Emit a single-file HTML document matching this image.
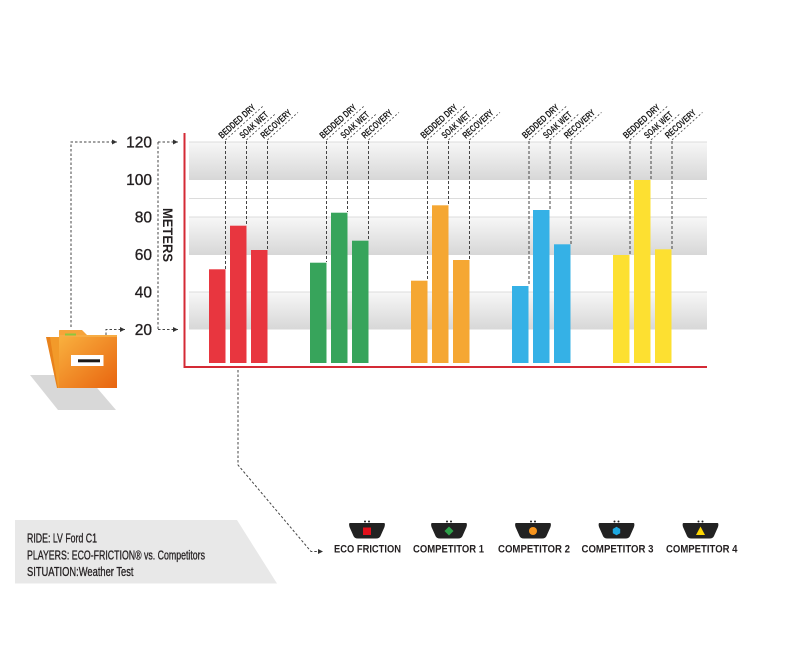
<!DOCTYPE html>
<html><head><meta charset="utf-8"><style>
html,body{margin:0;padding:0;background:#fff;}
svg{display:block;}
</style></head><body>
<svg width="800" height="650" viewBox="0 0 800 650" xmlns="http://www.w3.org/2000/svg" font-family="Liberation Sans, sans-serif">
<defs>
<linearGradient id="band" x1="0" y1="0" x2="0" y2="1">
<stop offset="0" stop-color="#f7f7f7"/><stop offset="1" stop-color="#d7d7d7"/>
</linearGradient>
<linearGradient id="fold" x1="0" y1="0" x2="1" y2="1">
<stop offset="0" stop-color="#f9b13f"/><stop offset="1" stop-color="#e8640f"/>
</linearGradient>
<marker id="ar" markerWidth="6" markerHeight="6" refX="5" refY="3" orient="auto" markerUnits="userSpaceOnUse">
<path d="M0,0.5 L5,3 L0,5.5 Z" fill="#333"/>
</marker>
</defs>

<!-- bands -->
<g>
<rect x="189" y="142" width="518" height="38" fill="url(#band)"/>
<rect x="189" y="217" width="518" height="38" fill="url(#band)"/>
<rect x="189" y="292" width="518" height="37.5" fill="url(#band)"/>
<g stroke="#dcdcdc" stroke-width="1">
<line x1="189" y1="142" x2="707" y2="142"/>
<line x1="189" y1="198.5" x2="707" y2="198.5"/>
<line x1="189" y1="217" x2="707" y2="217"/>
<line x1="189" y1="292" x2="707" y2="292"/>
</g>
</g>

<!-- bars -->
<g>
<rect x="209" y="269.3" width="16.5" height="93.7" fill="#e8363f"/>
<rect x="230" y="225.7" width="16.5" height="137.3" fill="#e8363f"/>
<rect x="251" y="250" width="16.5" height="113" fill="#e8363f"/>
<rect x="310" y="262.7" width="16.5" height="100.3" fill="#37a45b"/>
<rect x="331" y="212.7" width="16.5" height="150.3" fill="#37a45b"/>
<rect x="352" y="240.7" width="16.5" height="122.3" fill="#37a45b"/>
<rect x="411" y="280.7" width="16.5" height="82.3" fill="#f5a733"/>
<rect x="432" y="205.3" width="16.5" height="157.7" fill="#f5a733"/>
<rect x="453" y="260" width="16.5" height="103" fill="#f5a733"/>
<rect x="512" y="286" width="16.5" height="77" fill="#35b1e6"/>
<rect x="533" y="210" width="16.5" height="153" fill="#35b1e6"/>
<rect x="554" y="244.3" width="16.5" height="118.7" fill="#35b1e6"/>
<rect x="613" y="255" width="16.5" height="108" fill="#fde031"/>
<rect x="634" y="180" width="16.5" height="183" fill="#fde031"/>
<rect x="655" y="249.3" width="16.5" height="113.7" fill="#fde031"/>
</g>

<!-- dashed verticals from labels to bars -->
<g stroke="#444" stroke-width="1" stroke-dasharray="3,2" fill="none">
<line x1="225.5" y1="141" x2="225.5" y2="269"/>
<line x1="246.5" y1="141" x2="246.5" y2="225"/>
<line x1="267.5" y1="141" x2="267.5" y2="250"/>
<line x1="326.5" y1="141" x2="326.5" y2="262"/>
<line x1="347.5" y1="141" x2="347.5" y2="212"/>
<line x1="368.5" y1="141" x2="368.5" y2="240"/>
<line x1="427.5" y1="141" x2="427.5" y2="280"/>
<line x1="448.5" y1="141" x2="448.5" y2="205"/>
<line x1="469.5" y1="141" x2="469.5" y2="260"/>
<line x1="529" y1="141" x2="529" y2="286"/>
<line x1="550" y1="141" x2="550" y2="210"/>
<line x1="571" y1="141" x2="571" y2="244"/>
<line x1="630" y1="141" x2="630" y2="255"/>
<line x1="651" y1="141" x2="651" y2="180"/>
<line x1="672" y1="141" x2="672" y2="249"/>
</g>

<!-- rotated labels -->
<g font-size="9.5" font-weight="bold" fill="#1a1a1a">
<g transform="translate(222,139) rotate(-42)"><text x="0" y="0" textLength="46" lengthAdjust="spacingAndGlyphs">BEDDED DRY</text><line x1="2" y1="3" x2="52" y2="3" stroke="#444" stroke-width="0.8" stroke-dasharray="2,2"/></g>
<g transform="translate(243,139) rotate(-42)"><text x="0" y="0" textLength="35" lengthAdjust="spacingAndGlyphs">SOAK WET</text><line x1="2" y1="3" x2="40" y2="3" stroke="#444" stroke-width="0.8" stroke-dasharray="2,2"/></g>
<g transform="translate(264,139) rotate(-42)"><text x="0" y="0" textLength="38" lengthAdjust="spacingAndGlyphs">RECOVERY</text><line x1="2" y1="3" x2="43" y2="3" stroke="#444" stroke-width="0.8" stroke-dasharray="2,2"/></g>

<g transform="translate(323,139) rotate(-42)"><text x="0" y="0" textLength="46" lengthAdjust="spacingAndGlyphs">BEDDED DRY</text><line x1="2" y1="3" x2="52" y2="3" stroke="#444" stroke-width="0.8" stroke-dasharray="2,2"/></g>
<g transform="translate(344,139) rotate(-42)"><text x="0" y="0" textLength="35" lengthAdjust="spacingAndGlyphs">SOAK WET</text><line x1="2" y1="3" x2="40" y2="3" stroke="#444" stroke-width="0.8" stroke-dasharray="2,2"/></g>
<g transform="translate(365,139) rotate(-42)"><text x="0" y="0" textLength="38" lengthAdjust="spacingAndGlyphs">RECOVERY</text><line x1="2" y1="3" x2="43" y2="3" stroke="#444" stroke-width="0.8" stroke-dasharray="2,2"/></g>

<g transform="translate(424,139) rotate(-42)"><text x="0" y="0" textLength="46" lengthAdjust="spacingAndGlyphs">BEDDED DRY</text><line x1="2" y1="3" x2="52" y2="3" stroke="#444" stroke-width="0.8" stroke-dasharray="2,2"/></g>
<g transform="translate(445,139) rotate(-42)"><text x="0" y="0" textLength="35" lengthAdjust="spacingAndGlyphs">SOAK WET</text><line x1="2" y1="3" x2="40" y2="3" stroke="#444" stroke-width="0.8" stroke-dasharray="2,2"/></g>
<g transform="translate(466,139) rotate(-42)"><text x="0" y="0" textLength="38" lengthAdjust="spacingAndGlyphs">RECOVERY</text><line x1="2" y1="3" x2="43" y2="3" stroke="#444" stroke-width="0.8" stroke-dasharray="2,2"/></g>

<g transform="translate(525.5,139) rotate(-42)"><text x="0" y="0" textLength="46" lengthAdjust="spacingAndGlyphs">BEDDED DRY</text><line x1="2" y1="3" x2="52" y2="3" stroke="#444" stroke-width="0.8" stroke-dasharray="2,2"/></g>
<g transform="translate(546.5,139) rotate(-42)"><text x="0" y="0" textLength="35" lengthAdjust="spacingAndGlyphs">SOAK WET</text><line x1="2" y1="3" x2="40" y2="3" stroke="#444" stroke-width="0.8" stroke-dasharray="2,2"/></g>
<g transform="translate(567.5,139) rotate(-42)"><text x="0" y="0" textLength="38" lengthAdjust="spacingAndGlyphs">RECOVERY</text><line x1="2" y1="3" x2="43" y2="3" stroke="#444" stroke-width="0.8" stroke-dasharray="2,2"/></g>

<g transform="translate(626.5,139) rotate(-42)"><text x="0" y="0" textLength="46" lengthAdjust="spacingAndGlyphs">BEDDED DRY</text><line x1="2" y1="3" x2="52" y2="3" stroke="#444" stroke-width="0.8" stroke-dasharray="2,2"/></g>
<g transform="translate(647.5,139) rotate(-42)"><text x="0" y="0" textLength="35" lengthAdjust="spacingAndGlyphs">SOAK WET</text><line x1="2" y1="3" x2="40" y2="3" stroke="#444" stroke-width="0.8" stroke-dasharray="2,2"/></g>
<g transform="translate(668.5,139) rotate(-42)"><text x="0" y="0" textLength="38" lengthAdjust="spacingAndGlyphs">RECOVERY</text><line x1="2" y1="3" x2="43" y2="3" stroke="#444" stroke-width="0.8" stroke-dasharray="2,2"/></g>
</g>

<!-- axes -->
<g stroke="#d42a35" stroke-width="2" fill="none">
<line x1="184.5" y1="133" x2="184.5" y2="368"/>
<line x1="183.5" y1="367" x2="707" y2="367"/>
</g>

<!-- y tick labels -->
<g font-size="15.5" fill="#231f20" stroke="#231f20" stroke-width="0.35" text-anchor="end">
<text x="152" y="147.5">120</text>
<text x="152" y="185">100</text>
<text x="152" y="222.5">80</text>
<text x="152" y="260">60</text>
<text x="152" y="297.5">40</text>
<text x="152" y="335">20</text>
</g>
<g transform="translate(163,235) rotate(90)"><text x="0" y="0" font-size="13.5" font-weight="bold" fill="#231f20" text-anchor="middle" textLength="54" lengthAdjust="spacingAndGlyphs">METERS</text></g>

<!-- connectors -->
<g stroke="#444" stroke-width="1" stroke-dasharray="2.5,2" fill="none">
<polyline points="71,327 71,142 117,142" marker-end="url(#ar)"/>
<polyline points="106,335 106,329.5 125,329.5" marker-end="url(#ar)"/>
<line x1="158" y1="142" x2="158" y2="329.5"/>
<line x1="158" y1="142" x2="178" y2="142" marker-end="url(#ar)"/>
<line x1="158" y1="329.5" x2="178" y2="329.5" marker-end="url(#ar)"/>
<polyline points="238,370 238,465 311,551.5 323,551.5" marker-end="url(#ar)"/>
</g>

<!-- folder -->
<polygon points="30,375 86,375 116,410 58,410" fill="#d8d8d8"/>
<polygon points="46,337 58,337 60,388 57,388" fill="#e8821b"/>
<polygon points="50,337 60,337 60,388 58,388" fill="#f29a2a"/>
<path d="M59,336 L59,330.5 Q59,330 60,330 L82,330 L88,336 Z" fill="#f6a43a"/>
<rect x="59" y="336" width="58" height="52" fill="url(#fold)"/>
<rect x="59" y="335" width="58" height="2" fill="#f7ad45"/>
<rect x="65" y="333.5" width="11" height="2" fill="#8dc63f"/>
<rect x="71" y="355" width="32.5" height="11" fill="#ffffff"/>
<rect x="78" y="359.3" width="22" height="3" fill="#1a1a1a"/>

<!-- info box -->
<polygon points="15,520 237,520 277,583.5 15,583.5" fill="#e8e8e8"/>
<g font-size="12.5" fill="#231f20" stroke="#231f20" stroke-width="0.3">
<text x="27" y="542.5" textLength="70" lengthAdjust="spacingAndGlyphs">RIDE: LV Ford C1</text>
<text x="27" y="559.5" textLength="178" lengthAdjust="spacingAndGlyphs">PLAYERS: ECO-FRICTION® vs. Competitors</text>
<text x="27" y="576.2" textLength="106.5" lengthAdjust="spacingAndGlyphs">SITUATION:Weather Test</text>
</g>

<!-- legend icons -->
<g fill="#222">
<g transform="translate(367,0)"><path d="M-17,523 L17,523 Q18.5,523 17.5,527 L13.5,536 Q12.5,538.5 9,538.5 L-9,538.5 Q-12.5,538.5 -13.5,536 L-17.5,527 Q-18.5,523 -17,523 Z"/><circle cx="-2" cy="521.5" r="1"/><circle cx="2" cy="521.5" r="1"/></g>
<g transform="translate(449,0)"><path d="M-17,523 L17,523 Q18.5,523 17.5,527 L13.5,536 Q12.5,538.5 9,538.5 L-9,538.5 Q-12.5,538.5 -13.5,536 L-17.5,527 Q-18.5,523 -17,523 Z"/><circle cx="-2" cy="521.5" r="1"/><circle cx="2" cy="521.5" r="1"/></g>
<g transform="translate(533,0)"><path d="M-17,523 L17,523 Q18.5,523 17.5,527 L13.5,536 Q12.5,538.5 9,538.5 L-9,538.5 Q-12.5,538.5 -13.5,536 L-17.5,527 Q-18.5,523 -17,523 Z"/><circle cx="-2" cy="521.5" r="1"/><circle cx="2" cy="521.5" r="1"/></g>
<g transform="translate(616.5,0)"><path d="M-17,523 L17,523 Q18.5,523 17.5,527 L13.5,536 Q12.5,538.5 9,538.5 L-9,538.5 Q-12.5,538.5 -13.5,536 L-17.5,527 Q-18.5,523 -17,523 Z"/><circle cx="-2" cy="521.5" r="1"/><circle cx="2" cy="521.5" r="1"/></g>
<g transform="translate(700.5,0)"><path d="M-17,523 L17,523 Q18.5,523 17.5,527 L13.5,536 Q12.5,538.5 9,538.5 L-9,538.5 Q-12.5,538.5 -13.5,536 L-17.5,527 Q-18.5,523 -17,523 Z"/><circle cx="-2" cy="521.5" r="1"/><circle cx="2" cy="521.5" r="1"/></g>
</g>
<rect x="363" y="527.5" width="8" height="7.5" fill="#e3101b"/>
<polygon points="449,526.5 453.5,531 449,535.5 444.5,531" fill="#2ea24a"/>
<circle cx="533" cy="531" r="4" fill="#f7941d"/>
<polygon points="616.5,526.8 620.2,529 620.2,533.2 616.5,535.3 612.8,533.2 612.8,529" fill="#1ea9e1"/>
<polygon points="700.5,526.5 705,535 696,535" fill="#fdd602"/>

<!-- legend text -->
<g font-size="11" font-weight="bold" fill="#231f20">
<text x="334" y="552.5" textLength="67" lengthAdjust="spacingAndGlyphs">ECO FRICTION</text>
<text x="413" y="552.5" textLength="71" lengthAdjust="spacingAndGlyphs">COMPETITOR 1</text>
<text x="498" y="552.5" textLength="72" lengthAdjust="spacingAndGlyphs">COMPETITOR 2</text>
<text x="581.5" y="552.5" textLength="72" lengthAdjust="spacingAndGlyphs">COMPETITOR 3</text>
<text x="666" y="552.5" textLength="71.5" lengthAdjust="spacingAndGlyphs">COMPETITOR 4</text>
</g>
</svg>
</body></html>
